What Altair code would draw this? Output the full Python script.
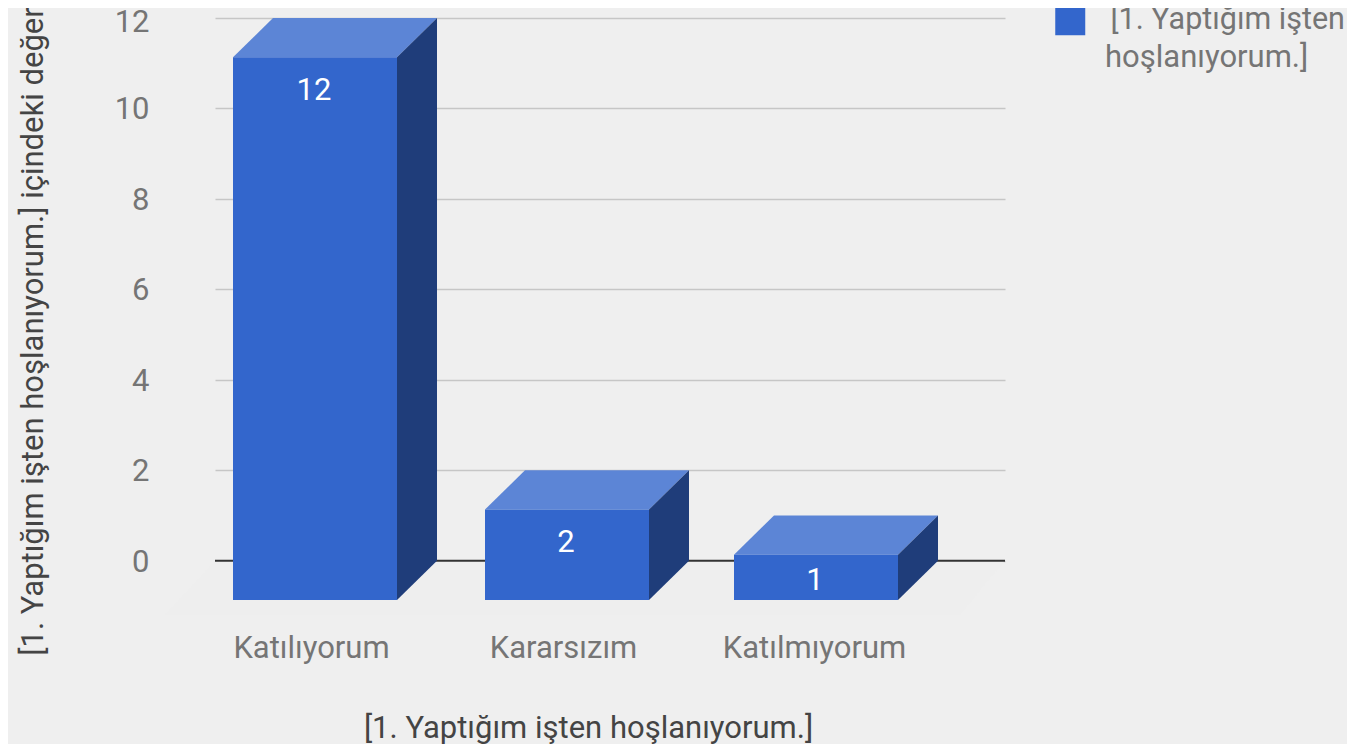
import altair as alt
import pandas as pd

categories = ["Katılıyorum", "Kararsızım", "Katılmıyorum"]
values = [12, 2, 1]
slot_left = [18, 270, 519]      # front-face left edge in x-scale units
label_centers = [96, 348, 599]
series_name = "[1. Yaptığım işten hoşlanıyorum.]"
y_title = "[1. Yaptığım işten hoşlanıyorum.] içindeki değer"
legend_lines = ["[1. Yaptığım işten", "hoşlanıyorum.]"]
y_ticks = [0, 2, 4, 6, 8, 10, 12]
floor_x = [-50, 0, 745, 790]
floor_top = [-1.19, 0, 0, 0]
floor_bottom = [-1.19, -1.19, -1.19, 0]

BAR_W = 164
DEPTH_X = 40
DEPTH_Y = 0.87
PX = 45.19
FONT = "Roboto"
BG = "#efefef"
FRONT, TOP, SIDE = "#3366cc", "#5c85d6", "#1f3d7a"
TXT = "#757575"
FS = 31

front, top, side, labels = [], [], [], []
for c, v, xl in zip(categories, values, slot_left):
    xr = xl + BAR_W
    tf = v - DEPTH_Y
    front.append(dict(cat=c, x=xl, x2=xr, y=tf, y2=-DEPTH_Y, series=series_name))
    top += [
        dict(cat=c, x=xl, y=tf, y2=tf),
        dict(cat=c, x=xl + DEPTH_X, y=v, y2=tf),
        dict(cat=c, x=xr, y=v, y2=tf),
        dict(cat=c, x=xr + DEPTH_X, y=v, y2=v),
    ]
    side += [
        dict(cat=c, x=xr, y=tf, y2=-DEPTH_Y),
        dict(cat=c, x=xr + DEPTH_X, y=v, y2=0),
    ]
    offset = min(30 / PX, (tf + DEPTH_Y) / 2)
    labels.append(dict(cat=c, x=xl + BAR_W / 2 - 1, y=tf - offset, text=str(v)))

xs = alt.Scale(domain=[0, 790], nice=False, zero=False)
ys = alt.Scale(domain=[-DEPTH_Y, 12], nice=False, zero=False)

label_expr = "{" + ",".join(f"'{p}':'{c}'" for p, c in zip(label_centers, categories)) + "}[datum.value]"

x_axis = alt.Axis(
    values=label_centers, labelExpr=label_expr, title=series_name, grid=False, domain=False,
    ticks=False, labelFontSize=FS, labelColor=TXT, labelFont=FONT, labelPadding=33, labelLimit=400,
    labelOverlap=False, labelFlush=False,
    titleFontSize=FS, titleColor="#444444", titleFont=FONT, titleFontWeight="normal",
    titleX=373, titleY=128, titleBaseline="middle",
)
y_axis = alt.Axis(
    values=y_ticks, title=y_title, domain=False, ticks=False, grid=True, gridColor="#c6c6c6",
    gridWidth=1.5, labelFontSize=FS, labelColor=TXT, labelFont=FONT, labelPadding=66,
    labelOffset=alt.condition("datum.value == 12", alt.value(4), alt.value(1.5)),
    titleFontSize=FS, titleColor="#444444", titleFont=FONT, titleFontWeight="normal",
    titleLimit=700, titleX=-182, titleY=313, titleBaseline="middle",
)

axes = alt.Chart(pd.DataFrame({"x": [0, 790], "y": [0, 0]})).mark_rule(opacity=0).encode(
    x=alt.X("x:Q", scale=xs, axis=x_axis), y=alt.Y("y:Q", scale=ys, axis=y_axis)
)
zero_line = alt.Chart(pd.DataFrame({"x": [0], "x2": [790], "y": [0]})).mark_rule(
    color="#333333", strokeWidth=2
).encode(x=alt.X("x:Q", scale=xs), x2="x2:Q", y=alt.Y("y:Q", scale=ys))

area_x = alt.X("x:Q", scale=xs)
area_y = alt.Y("y:Q", scale=ys)
floor_layer = alt.Chart(pd.DataFrame({"x": floor_x, "y": floor_top, "y2": floor_bottom})).mark_area(
    color="#eeeeee", opacity=1, orient="vertical"
).encode(x=area_x, y=area_y, y2="y2:Q")
top_layer = alt.Chart(pd.DataFrame(top)).mark_area(color=TOP, opacity=1, orient="vertical").encode(
    x=area_x, y=area_y, y2="y2:Q", detail="cat:N"
)
side_layer = alt.Chart(pd.DataFrame(side)).mark_area(color=SIDE, opacity=1, orient="vertical").encode(
    x=area_x, y=area_y, y2="y2:Q", detail="cat:N"
)
front_layer = alt.Chart(pd.DataFrame(front)).mark_rect().encode(
    x=area_x, x2="x2:Q", y=area_y, y2="y2:Q",
    color=alt.Color(
        "series:N", scale=alt.Scale(range=[FRONT]),
        legend=alt.Legend(
            orient="none", legendX=840, legendY=-13, title=None, symbolType="square", symbolSize=900,
            symbolStrokeWidth=0, symbolOpacity=1, labelFontSize=30.5, labelFont=FONT, labelColor=TXT,
            labelLimit=400, labelOffset=25, labelExpr=f"'{legend_lines[0]}'",
            labelBaseline="middle", labelAlign="left",
        ),
    ),
)
text_layer = alt.Chart(pd.DataFrame(labels)).mark_text(
    color="#ffffff", font=FONT, fontSize=FS, baseline="middle", align="center", dy=3.5
).encode(x=area_x, y=area_y, text="text:N")
legend_second_line = alt.Chart(pd.DataFrame({"text": [legend_lines[1]]})).mark_text(
    color=TXT, font=FONT, fontSize=FS, baseline="middle", align="left"
).encode(x=alt.value(890), y=alt.value(40), text="text:N")

chart = alt.layer(
    axes, floor_layer, zero_line, top_layer, side_layer, front_layer, text_layer, legend_second_line
).properties(
    width=790, height=582,
    padding={"left": 207, "top": 10, "right": 342, "bottom": 144},
    autosize=alt.AutoSizeParams(type="none"),
    background=BG,
).configure_view(stroke=None)

chart.save("out.html", embed_options={"renderer": "svg", "actions": False})
